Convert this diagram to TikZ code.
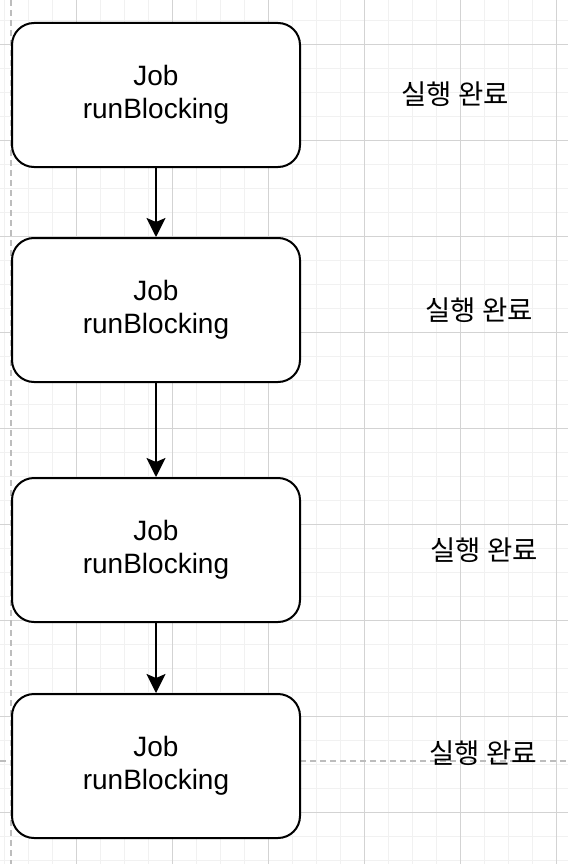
\documentclass[tikz,border=0pt]{standalone}
\usepackage{fontspec}
\setmainfont{Liberation Sans}
\newfontfamily\krfont{Noto Sans CJK KR}
\usetikzlibrary{arrows.meta}
\definecolor{gridminor}{HTML}{F1F1F1}
\definecolor{gridmajor}{HTML}{D3D3D3}
\definecolor{pageedge}{HTML}{BDBDBD}

\begin{document}
\begin{tikzpicture}[x=1pt,y=-1pt,>={Stealth[length=19pt,width=19pt,inset=4pt]},every node/.style={align=center},jobbox/.style={draw,line width=2pt,rounded corners=22pt,fill=white,minimum width=288pt,minimum height=144pt,font=\fontsize{28}{33.5}\selectfont},donelabel/.style={font=\krfont\fontsize{27.5}{30}\selectfont},arrow/.style={->,line width=2pt}]
\useasboundingbox (0,0) rectangle (568,864);
% background grid
\foreach \x in {4.7,28.7,...,568} \draw[gridminor,line width=1pt] (\x,0) -- (\x,864);
\foreach \y in {20.7,44.7,...,864} \draw[gridminor,line width=1pt] (0,\y) -- (568,\y);
\foreach \x in {76.7,172.7,...,568} \draw[gridmajor,line width=1pt] (\x,0) -- (\x,864);
\foreach \y in {44.7,140.7,...,864} \draw[gridmajor,line width=1pt] (0,\y) -- (568,\y);
% page edges
\draw[pageedge,line width=1.5pt,dash pattern=on 6pt off 4pt] (11,0) -- (11,864);
\draw[pageedge,line width=1.5pt,dash pattern=on 6pt off 4pt] (0,761) -- (568,761);
\node[jobbox] (job1) at (156,95) {Job\\runBlocking}; \node[jobbox] (job2) at (156,310) {Job\\runBlocking}; \node[jobbox] (job3) at (156,550) {Job\\runBlocking}; \node[jobbox] (job4) at (156,766) {Job\\runBlocking};
\draw[arrow] (job1) -- (job2); \draw[arrow] (job2) -- (job3); \draw[arrow] (job3) -- (job4);
\node[donelabel] (done1) at (455,94) {실행 완료}; \node[donelabel] (done2) at (479,310) {실행 완료}; \node[donelabel] (done3) at (484,550) {실행 완료}; \node[donelabel] (done4) at (483,753) {실행 완료};
\end{tikzpicture}
\end{document}
